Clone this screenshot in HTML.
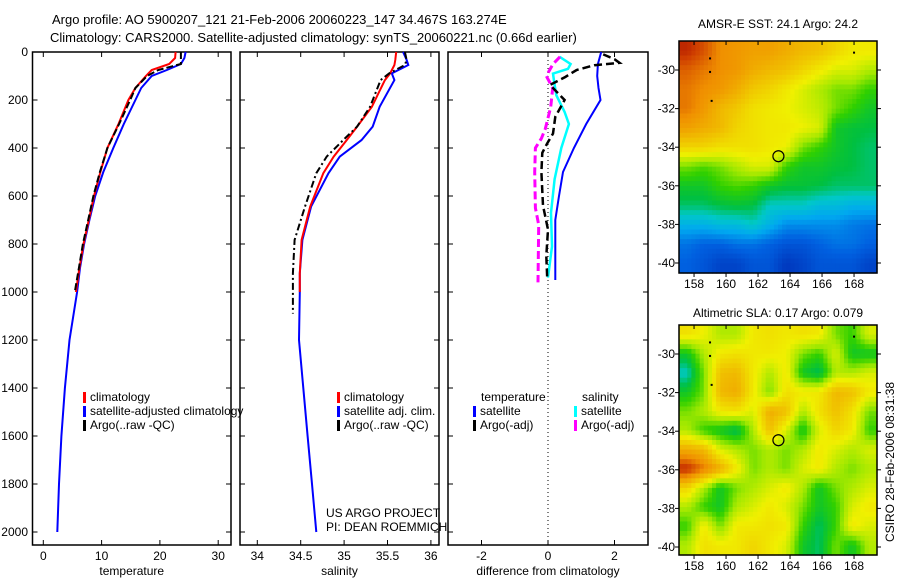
<!DOCTYPE html>
<html><head><meta charset="utf-8"><style>
html,body{margin:0;padding:0;background:#fff;}
svg{display:block;font-family:"Liberation Sans",sans-serif;}
text{font-size:12px;fill:#000;}
</style></head><body>
<svg id="chart" width="900" height="580" viewBox="0 0 900 580" xmlns="http://www.w3.org/2000/svg">
<text x="52" y="24" style="font-size:13px">Argo profile: AO 5900207_121 21-Feb-2006 20060223_147 34.467S 163.274E</text>
<text x="50" y="42" style="font-size:13px">Climatology: CARS2000. Satellite-adjusted climatology: synTS_20060221.nc (0.66d earlier)</text>
<g id="g1"></g>
<g id="g2"></g>
<g id="g3"></g>
<g id="m1"></g>
<g id="m2"></g>
<text x="778" y="28" text-anchor="middle">AMSR-E SST: 24.1 Argo: 24.2</text>
<text x="778" y="317" text-anchor="middle">Altimetric SLA: 0.17 Argo: 0.079</text>
<text transform="translate(894,462) rotate(-90)" text-anchor="middle">CSIRO 28-Feb-2006 08:31:38</text>
<text x="326" y="517">US ARGO PROJECT</text>
<text x="326" y="531">PI: DEAN ROEMMICH</text>
</svg>
<script>
// ---- temperature data ----
const tDepth=[0,25,50,75,100,150,200,300,400,500,600,700,800,900,1000,1200,1400,1600,1800,2000];
const tSat=[24.4,24.2,23.6,21.2,18.6,16.8,15.8,13.8,12,10.3,8.9,7.9,7.0,6.3,5.8,4.5,3.7,3.1,2.7,2.4];
const tClim=[22.7,22.6,21.6,18.6,17.6,15.8,14.6,12.9,11,9.8,8.7,7.8,6.9,6.2,5.6];
const tArgo=[23.6,23.6,23.6,19.7,17.8,15.8,14.9,13.0,11,9.7,8.6,7.7,6.8,6.1,5.4];
const tTicks=[0,10,20,30];
// ---- salinity data ----
const sDepth=[0,33,54,89,117,228,311,367,436,505,644,783,922,1000,1200,1400,1600,1800,2000];
const sSat=[35.68,35.72,35.74,35.55,35.58,35.41,35.33,35.20,34.95,34.82,34.62,34.52,34.49,34.49,34.48,34.53,34.58,34.63,34.68];
const sClim=[35.60,35.59,35.58,35.53,35.47,35.32,35.15,35.03,34.88,34.76,34.61,34.51,34.49,34.49];
const sArgoDepth=[0,33,54,89,117,228,311,367,436,505,644,783,922,1000,1090];
const sArgo=[35.70,35.72,35.70,35.52,35.42,35.30,35.15,34.99,34.80,34.68,34.55,34.43,34.41,34.41,34.41];
const sTicks=[34,34.5,35,35.5,36];
const sTickLabels=["34","34.5","35","35.5","36"];
// ---- difference data ----
const dBlueDepth=[0,50,100,150,200,300,400,500,600,700,800,950];
const dBlue=[1.6,1.5,1.48,1.52,1.58,1.15,0.78,0.45,0.33,0.22,0.22,0.22];
const dCyanDepth=[20,50,70,90,120,180,250,300,400,530,670,810,940];
const dCyan=[0.35,0.68,0.6,0.15,0.18,0.25,0.5,0.63,0.4,0.2,0.09,0.12,0.0];
const dMagDepth=[20,50,100,150,230,320,360,400,500,650,720,960];
const dMag=[0.36,0.15,-0.05,0.14,0.08,-0.08,-0.2,-0.38,-0.4,-0.38,-0.28,-0.3];
const dBlackDepth=[10,30,45,55,75,104,137,200,270,340,380,420,500,640,740,850,950];
const dBlack=[1.66,2.0,2.15,1.4,0.86,0.52,0.06,0.5,0.22,0.15,-0.02,-0.17,-0.2,-0.15,0.0,-0.05,-0.02];
const dTicks=[-2,0,2];
const depthTicks=[0,200,400,600,800,1000,1200,1400,1600,1800,2000];
// ---- map data (0=low/blue .. 1=high/red), rows lat -29..-40, cols lon 157.5..169 ----
const sstGrid=[
[0.95,0.9,0.82,0.8,0.78,0.78,0.75,0.72,0.7,0.65,0.6,0.6],
[0.88,0.85,0.82,0.8,0.75,0.72,0.7,0.65,0.6,0.55,0.55,0.5],
[0.85,0.82,0.8,0.75,0.68,0.65,0.6,0.55,0.5,0.45,0.45,0.4],
[0.85,0.8,0.72,0.68,0.62,0.6,0.58,0.55,0.52,0.45,0.4,0.35],
[0.78,0.75,0.72,0.65,0.62,0.6,0.6,0.58,0.55,0.35,0.33,0.32],
[0.65,0.65,0.62,0.62,0.62,0.6,0.58,0.45,0.4,0.35,0.32,0.3],
[0.45,0.42,0.45,0.5,0.55,0.55,0.4,0.35,0.35,0.33,0.32,0.3],
[0.35,0.35,0.4,0.42,0.4,0.35,0.33,0.33,0.32,0.3,0.3,0.3],
[0.3,0.3,0.32,0.33,0.32,0.25,0.25,0.25,0.22,0.22,0.2,0.2],
[0.2,0.2,0.22,0.22,0.25,0.2,0.15,0.15,0.15,0.15,0.13,0.12],
[0.12,0.1,0.1,0.12,0.12,0.1,0.08,0.08,0.1,0.12,0.12,0.1],
[0.1,0.08,0.05,0.05,0.08,0.08,0.03,0.05,0.08,0.08,0.08,0.05]];
const slaGrid=[
[0.62,0.58,0.5,0.5,0.6,0.62,0.6,0.62,0.6,0.45,0.4,0.55],
[0.35,0.5,0.6,0.62,0.6,0.6,0.58,0.45,0.4,0.55,0.35,0.35],
[0.25,0.45,0.7,0.72,0.6,0.5,0.6,0.35,0.3,0.5,0.5,0.55],
[0.35,0.45,0.72,0.75,0.6,0.45,0.62,0.6,0.6,0.72,0.7,0.6],
[0.45,0.5,0.6,0.62,0.55,0.75,0.7,0.5,0.62,0.7,0.62,0.45],
[0.5,0.4,0.35,0.3,0.5,0.7,0.55,0.35,0.55,0.65,0.6,0.4],
[0.75,0.72,0.55,0.5,0.45,0.5,0.45,0.5,0.6,0.55,0.5,0.55],
[0.95,0.85,0.75,0.6,0.45,0.5,0.45,0.55,0.6,0.5,0.45,0.5],
[0.65,0.5,0.35,0.45,0.5,0.55,0.6,0.5,0.35,0.45,0.5,0.55],
[0.5,0.4,0.35,0.5,0.55,0.6,0.55,0.45,0.35,0.4,0.55,0.6],
[0.4,0.6,0.45,0.6,0.6,0.62,0.6,0.4,0.3,0.4,0.6,0.55],
[0.5,0.62,0.6,0.6,0.65,0.6,0.55,0.35,0.3,0.45,0.35,0.5]];
const lonTicks=[158,160,162,164,166,168];
const latTicks=[-30,-32,-34,-36,-38,-40];
const argoLon=163.274, argoLat=-34.467;

const NS="http://www.w3.org/2000/svg";
function mk(parent,tag,attrs){const e=document.createElementNS(NS,tag);for(const k in attrs)e.setAttribute(k,attrs[k]);parent.appendChild(e);return e;}
const yD=d=>52+d*0.24;
const PT=52,PB=545;

function panel(g,x0,x1,xs,ticks,labels,title,leftLabels){
  const r=mk(g,'rect',{x:x0,y:PT,width:x1-x0,height:PB-PT,fill:'none',stroke:'#000','stroke-width':1.5});
  
  
  ticks.forEach((v,i)=>{const x=xs(v);
    mk(g,'line',{x1:x,x2:x,y1:PB,y2:PB-5,stroke:'#000'});
    mk(g,'line',{x1:x,x2:x,y1:PT,y2:PT+5,stroke:'#000'});
    const t=mk(g,'text',{x:x,y:560,'text-anchor':'middle'});t.textContent=labels[i];
    
    
  });
  depthTicks.forEach(d=>{const y=yD(d);
    mk(g,'line',{x1:x0,x2:x0+5,y1:y,y2:y,stroke:'#000'});
    mk(g,'line',{x1:x1,x2:x1-5,y1:y,y2:y,stroke:'#000'});
    if(leftLabels){const t=mk(g,'text',{x:28,y:y+4,'text-anchor':'end'});t.textContent=d;
      
      }
  });
  const tt=mk(g,'text',{x:(x0+x1)/2,y:575,'text-anchor':'middle'});tt.textContent=title;
  
  
}
function line(g,xs,depths,vals,color,dash,w,name){
  const pts=vals.map((v,i)=>xs(v).toFixed(1)+','+yD(depths[i]).toFixed(1)).join(' ');
  const p=mk(g,'polyline',{points:pts,fill:'none',stroke:color,'stroke-width':w||2,'stroke-dasharray':dash||'none'});
  
  
}
function legend(g,x,y,color,label){
  mk(g,'rect',{x:x,y:y-9,width:3,height:11,fill:color});
  const t=mk(g,'text',{x:x+7,y:y});t.textContent=label;
  
  
}
// panel 1
const g1=document.getElementById('g1');
const xT=v=>43.3+v*5.83;
panel(g1,32.5,231,xT,tTicks,tTicks.map(String),'temperature',true);
line(g1,xT,tDepth,tSat,'#0000ff',null,2,'temp-satellite-adjusted-line');
line(g1,xT,tDepth.slice(0,tClim.length),tClim,'#ff0000',null,2,'temp-climatology-line');
line(g1,xT,tDepth.slice(0,tArgo.length),tArgo,'#000000','7,3',2,'temp-argo-line');
legend(g1,83,401,'#ff0000','climatology');
legend(g1,83,415,'#0000ff','satellite-adjusted climatology');
legend(g1,83,429,'#000','Argo(..raw -QC)');
// panel 2
const g2=document.getElementById('g2');
const xS=v=>257.3+(v-34)*86.8;
panel(g2,240,439,xS,sTicks,sTickLabels,'salinity',false);
line(g2,xS,sDepth,sSat,'#0000ff',null,2,'sal-satellite-adjusted-line');
line(g2,xS,sDepth.slice(0,sClim.length),sClim,'#ff0000',null,2,'sal-climatology-line');
line(g2,xS,sArgoDepth,sArgo,'#000','7,3,2,3',2,'sal-argo-line');
legend(g2,337,401,'#ff0000','climatology');
legend(g2,337,415,'#0000ff','satellite adj. clim.');
legend(g2,337,429,'#000','Argo(..raw -QC)');
// panel 3
const g3=document.getElementById('g3');
const xD=v=>548+v*33.25;
panel(g3,448,648,xD,dTicks,dTicks.map(String),'difference from climatology',false);
const zl=mk(g3,'line',{x1:xD(0),x2:xD(0),y1:PT,y2:PB,stroke:'#000','stroke-dasharray':'1,3'});


line(g3,xD,dBlueDepth,dBlue,'#0000ff',null,2,'diff-temp-satellite-line');
line(g3,xD,dCyanDepth,dCyan,'#00ffff',null,2.5,'diff-sal-satellite-line');
line(g3,xD,dMagDepth,dMag,'#ff00ff','8,4',3,'diff-sal-argo-line');
line(g3,xD,dBlackDepth,dBlack,'#000','8,4',2.5,'diff-temp-argo-line');
const lt=mk(g3,'text',{x:481,y:401});lt.textContent='temperature';


const ls=mk(g3,'text',{x:582,y:401});ls.textContent='salinity';


legend(g3,473,415,'#0000ff','satellite');
legend(g3,473,429,'#000','Argo(-adj)');
legend(g3,574,415,'#00ffff','satellite');
legend(g3,574,429,'#ff00ff','Argo(-adj)');

// maps
const stops=[[0,[0,40,176]],[0.1,[0,96,224]],[0.18,[0,168,240]],[0.25,[0,200,200]],[0.32,[0,192,64]],[0.4,[48,208,0]],[0.48,[160,232,0]],[0.58,[240,240,0]],[0.7,[240,192,0]],[0.82,[240,144,0]],[0.92,[208,64,0]],[1,[160,0,0]]];
function cmap(v){v=Math.max(0,Math.min(1,v));for(let i=1;i<stops.length;i++){if(v<=stops[i][0]){const a=stops[i-1],b=stops[i],f=(v-a[0])/(b[0]-a[0]);return 'rgb('+a[1].map((c,k)=>Math.round(c+(b[1][k]-c)*f)).join(',')+')';}}return 'rgb(160,0,0)';}
function drawMap(g,grid,top,lat30y){
  const L=679,R=877,lon0=157.06,lonS=16,latS=19.3;
  const B=top+(lat30y-top)+10*latS+ (top<100?10:8);
  const bottom=top<100?273:555;
  const xL=lon=>L+(lon-lon0)*lonS;
  const yL=lat=>lat30y+(-30-lat)*latS;
  const nr=grid.length,nc=grid[0].length,sub=4;
  const W=R-L,H=bottom-top;
  const cw=W/(nc*sub),ch=H/(nr*sub);
  for(let i=0;i<nr*sub;i++)for(let j=0;j<nc*sub;j++){
    const fy=Math.max(0,Math.min(nr-1,(i+0.5)/sub-0.5)),fx=Math.max(0,Math.min(nc-1,(j+0.5)/sub-0.5));
    const i0=Math.floor(fy),j0=Math.floor(fx),i1=Math.min(nr-1,i0+1),j1=Math.min(nc-1,j0+1),a=fy-i0,b=fx-j0;
    const v=grid[i0][j0]*(1-a)*(1-b)+grid[i0][j1]*(1-a)*b+grid[i1][j0]*a*(1-b)+grid[i1][j1]*a*b;
    const c=mk(g,'rect',{x:(L+j*cw).toFixed(2),y:(top+i*ch).toFixed(2),width:(cw+0.6).toFixed(2),height:(ch+0.6).toFixed(2),fill:cmap(v)});
    
    
  }
  [[159,-29.4],[159,-30.1],[159.1,-31.6],[168,-29.1]].forEach(p=>mk(g,'rect',{x:xL(p[0])-1,y:yL(p[1])-1,width:2,height:2,fill:'#000'}));
  const fr=mk(g,'rect',{x:L,y:top,width:W,height:H,fill:'none',stroke:'#000','stroke-width':1.5});
  
  
  lonTicks.forEach(lon=>{const x=xL(lon);mk(g,'line',{x1:x,x2:x,y1:top,y2:top+4,stroke:'#000'});mk(g,'line',{x1:x,x2:x,y1:bottom,y2:bottom+4,stroke:'#000'});
    const t=mk(g,'text',{x:x,y:bottom+15,'text-anchor':'middle'});t.textContent=lon;
    
    });
  latTicks.forEach(lat=>{const y=yL(lat);mk(g,'line',{x1:L-4,x2:L,y1:y,y2:y,stroke:'#000'});mk(g,'line',{x1:R,x2:R+4,y1:y,y2:y,stroke:'#000'});
    const t=mk(g,'text',{x:675,y:y+4,'text-anchor':'end'});t.textContent=lat;
    
    });
  const ci=mk(g,'circle',{cx:xL(argoLon),cy:yL(argoLat),r:5.5,fill:'none',stroke:'#000','stroke-width':1.2});
  
  
}
drawMap(document.getElementById('m1'),sstGrid,41,70);
drawMap(document.getElementById('m2'),slaGrid,325,354);
</script>
</body></html>
